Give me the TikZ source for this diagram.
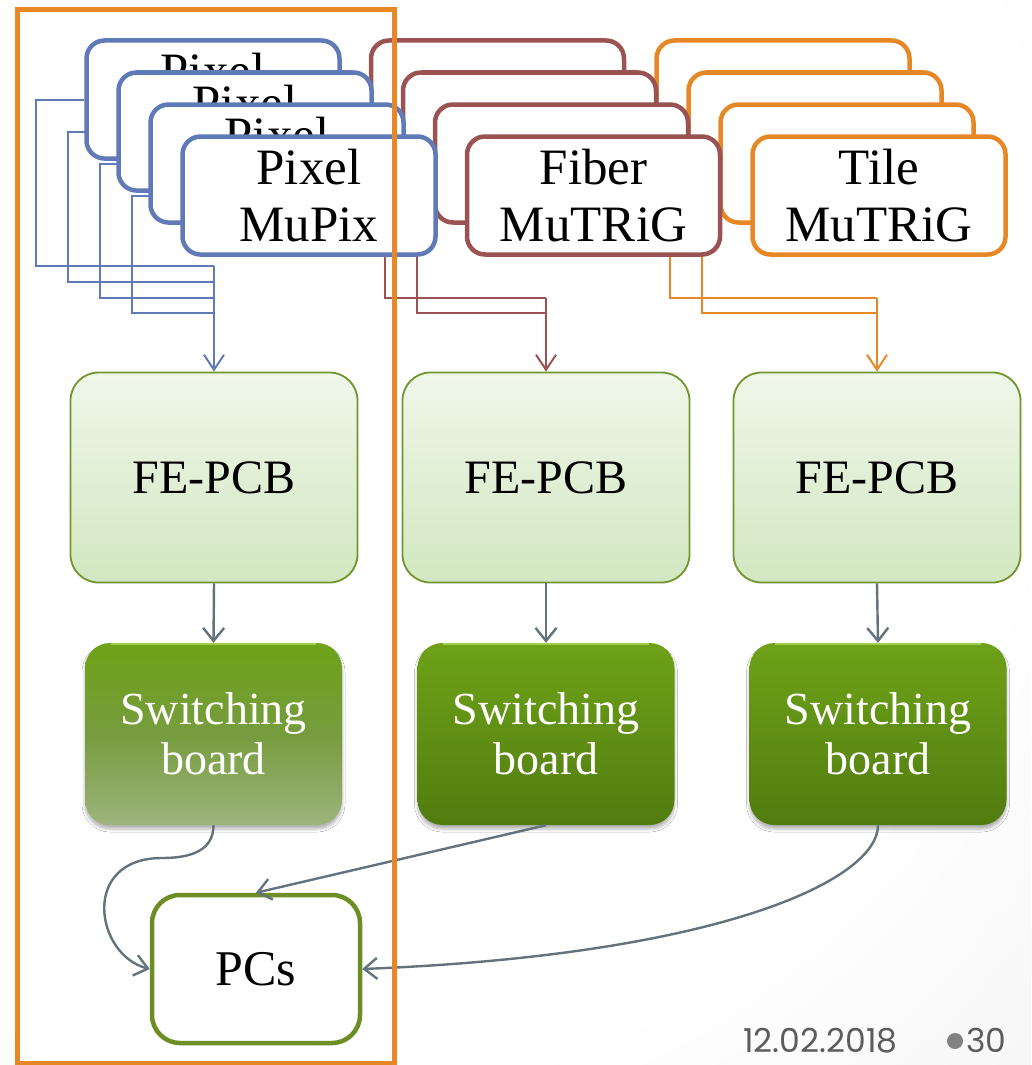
\documentclass[tikz,border=0pt]{standalone}
\usepackage{fontspec}
\setmainfont{Liberation Serif}
\newfontfamily\footfont{Poppins}
\usetikzlibrary{arrows.meta,shadows,shadows.blur}

\definecolor{pixblue}{RGB}{96,122,184}
\definecolor{fibred}{RGB}{155,82,82}
\definecolor{tileorange}{RGB}{232,135,38}
\definecolor{feborder}{RGB}{112,150,45}
\definecolor{fetop}{RGB}{240,247,234}
\definecolor{febot}{RGB}{210,231,193}
\definecolor{swtop}{RGB}{110,162,24}
\definecolor{swbot}{RGB}{82,124,16}
\definecolor{swmid}{RGB}{118,156,62}
\definecolor{swfade}{RGB}{158,180,124}
\definecolor{swrim}{RGB}{160,205,80}
\definecolor{flowgray}{RGB}{100,114,124}
\definecolor{pcborder}{RGB}{108,142,35}
\definecolor{footgray}{RGB}{92,92,92}
\definecolor{dotgray}{RGB}{130,130,130}

% slide background: white in the upper left, light grey towards the edges
\pgfdeclareradialshading{slidebg}{\pgfpoint{-18bp}{18bp}}{%
  color(0bp)=(white); color(36bp)=(white); color(80bp)=(black!14)}

\tikzset{
  topbox/.style={draw=#1, line width=4.5pt, fill=white, rounded corners=18pt,
    minimum width=253pt, minimum height=118pt, inner sep=0pt, align=center,
    font=\fontsize{51}{57}\selectfont},
  feedline/.style={draw=#1, line width=2pt},
  feedarrow/.style={draw=#1, line width=2pt,
    -{Straight Barb[length=15pt,width=20pt]}},
  fepcb/.style={draw=feborder, line width=1.8pt, rounded corners=28pt,
    top color=fetop, bottom color=febot,
    minimum width=287pt, minimum height=210pt,
    font=\fontsize{48}{50}\selectfont},
  switchbox/.style={rounded corners=25pt, top color=swtop, bottom color=swbot,
    minimum width=257pt, minimum height=182pt, text=white, align=center,
    font=\fontsize{46}{50}\selectfont,
    blur shadow={shadow xshift=0pt, shadow yshift=-4pt, shadow blur steps=6,
      shadow opacity=30, shadow blur radius=3pt}},
  pcbox/.style={draw=pcborder, line width=4.5pt, fill=white, rounded corners=28pt,
    minimum width=208pt, minimum height=148pt,
    font=\fontsize{50}{50}\selectfont},
  flow/.style={draw=flowgray, line width=2.4pt,
    -{Straight Barb[length=13pt,width=21pt]}},
  rim/.style={draw=swrim, line width=1.5pt},
  frame/.style={draw=tileorange, line width=5pt},
}

\begin{document}
\begin{tikzpicture}[x=1pt,y=-1pt]
\useasboundingbox (0,0) rectangle (1031,1065);
\shade[shading=slidebg] (0,0) rectangle (1031,1065);

% ---- box positions ----
\path
  (213,99.5)  coordinate (p1) (245,131.5) coordinate (p2)
  (277,163.5) coordinate (p3) (309,195.5) coordinate (p4)
  (497.5,99.5)  coordinate (f1) (529.5,131.5) coordinate (f2)
  (561.5,163.5) coordinate (f3) (593.5,195.5) coordinate (f4)
  (783,99.5)  coordinate (t1) (815,131.5) coordinate (t2)
  (847,163.5) coordinate (t3) (879,195.5) coordinate (t4);

% front-end boards
\node[fepcb] (fe1) at (214,477.5) {FE-PCB};
\node[fepcb] (fe2) at (546,477.5) {FE-PCB};
\node[fepcb] (fe3) at (877,477.5) {FE-PCB};

% invisible copies of the detector boxes, used as connector anchors
\foreach \n in {p1,p2,p3,p4,f1,f2,f3,f4,t1,t2,t3,t4}
  \node[topbox=white, draw=none, fill=none] (\n b) at (\n) {};

% junction points where the readout lines merge
\coordinate (pj1) at (214,266);
\coordinate (pj2) at (214,282);
\coordinate (pj3) at (214,298);
\coordinate (pj4) at (214,313);
\coordinate (fj3) at (546,298);
\coordinate (fj4) at (546,313);
\coordinate (tj3) at (877,298);
\coordinate (tj4) at (877,313);

% readout lines (behind the detector boxes)
\draw[feedline=pixblue] (p1b.west) -- ++(-48,0) |- (pj1);
\draw[feedline=pixblue] (p2b.west) -- ++(-48,0) |- (pj2);
\draw[feedline=pixblue] (p3b.west) -- ++(-48,0) |- (pj3);
\draw[feedline=pixblue] (p4b.west) -- ++(-48,0) |- (pj4);
\draw[feedarrow=pixblue] (pj1) -- (fe1.north);

\draw[feedline=fibred] (f3b.west) -- ++(-48,0) |- (fj3);
\draw[feedline=fibred] (f4b.west) -- ++(-48,0) |- (fj4);
\draw[feedarrow=fibred] (fj3) -- (fe2.north);

\draw[feedline=tileorange] (t3b.west) -- ++(-48,0) |- (tj3);
\draw[feedline=tileorange] (t4b.west) -- ++(-48,0) |- (tj4);
\draw[feedarrow=tileorange] (tj3) -- (fe3.north);

% detector boxes, layer by layer from back to front
\node[topbox=pixblue]    (px1) at (p1) {Pixel\\\phantom{MuPix}};
\node[topbox=fibred]     (fb1) at (f1) {};
\node[topbox=tileorange] (tb1) at (t1) {};
\node[topbox=pixblue]    (px2) at (p2) {Pixel\\\phantom{MuPix}};
\node[topbox=fibred]     (fb2) at (f2) {};
\node[topbox=tileorange] (tb2) at (t2) {};
\node[topbox=pixblue]    (px3) at (p3) {Pixel\\\phantom{MuPix}};
\node[topbox=fibred]     (fb3) at (f3) {};
\node[topbox=tileorange] (tb3) at (t3) {};
\node[topbox=pixblue]    (px4) at (p4) {Pixel\\MuPix};
\node[topbox=fibred]     (fb4) at (f4) {Fiber\\MuTRiG};
\node[topbox=tileorange] (tb4) at (t4) {Tile\\MuTRiG};

% switching boards
\node[switchbox, top color=swtop, bottom color=swfade, middle color=swmid]
  (sw1) at (213.5,734) {Switching\\board};
\node[switchbox] (sw2) at (546,734) {Switching\\board};
\node[switchbox] (sw3) at (878,734) {Switching\\board};
% light bevel along the top edge of each board
\foreach \s in {sw1,sw2,sw3}
  \draw[rim] ([xshift=26pt,yshift=-1pt]\s.north west) -- ([xshift=-26pt,yshift=-1pt]\s.north east);

% PC farm
\node[pcbox] (pcs) at (256,969) {PCs};

% data flow
\draw[flow] (fe1.south) -- (sw1.north);
\draw[flow] (fe2.south) -- (sw2.north);
\draw[flow] (fe3.south) -- (sw3.north);

\coordinate (bend) at (162,858);
\draw[flow] (sw1.south) .. controls (213.5,850) and (192,858) .. (bend)
  .. controls (80,858) and (95,955) .. (pcs.west);
\draw[flow] (sw2.south) -- (pcs.north);
\draw[flow] (sw3.south) .. controls (878,880) and (720,955) .. (pcs.east);

% highlight frame around the pixel chain
\draw[frame] (17,10) rectangle (394,1063);

% footer
\node[anchor=base west, inner sep=0pt, text=footgray,
  font=\footfont\fontsize{33}{33}\selectfont] (date) at (743,1052) {12.02.2018};
\fill[dotgray] (955,1041) circle (8);
\node[anchor=base west, inner sep=0pt, text=footgray,
  font=\footfont\fontsize{33}{33}\selectfont] (page) at (966,1052) {30};
\end{tikzpicture}
\end{document}
